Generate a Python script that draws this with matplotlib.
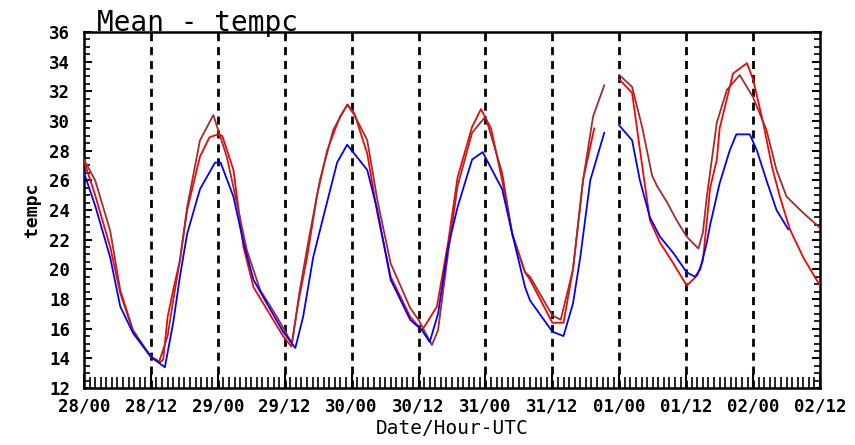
#!/usr/bin/env python3
"""
plot.py - Mean tempc meteogram (three members), 28/00 to 02/12 UTC
"""

import numpy as np
import matplotlib
matplotlib.use('Agg')
import matplotlib.pyplot as plt
from matplotlib.ticker import MultipleLocator

nan = np.nan

# hours since 28/00 UTC, NaN marks the gap before 01/00
blue_hours = [0, 2, 4.7, 6.5, 8.8, 12, 14.5, 16, 17.2, 18.5, 20.8, 23.5, 24.5, 26.8, 28.6,
              30.4, 32.8, 35.7, 37.9, 39.3, 41.1, 42.9, 45.4, 47.2, 50.8, 52.6, 55, 58.5,
              60.6, 62, 63.5, 65.3, 67, 69.6, 71.5, 75, 76.8, 79.1, 80, 84, 86, 87.7, 89,
              90.8, 93.3, nan,
              96, 98.3, 99.7, 101.5, 103.3, 105.7, 108.1, 109.6, 110.5, 111.7, 112.3, 114,
              115.8, 117, 119.4, 120.7, 122.4, 124.2, 126.3]
blue_vals = [26.5, 24.3, 20.8, 17.5, 15.7, 14.1, 13.4, 16.4, 19.5, 22.4, 25.4, 27.2, 27.2, 24.9, 21.8,
             19.3, 17.7, 15.8, 14.7, 16.8, 20.8, 23.5, 27.2, 28.4, 26.7, 24.0, 19.3, 16.6,
             15.9, 15.1, 17.0, 21.5, 24.2, 27.4, 27.9, 25.4, 22.4, 18.8, 17.9, 15.8, 15.5, 17.7, 20.8,
             26.0, 29.2, nan,
             29.7, 28.7, 26.0, 23.5, 22.2, 21.1, 19.8, 19.5, 20.0, 21.8, 23.0, 25.8,
             28.0, 29.1, 29.1, 28.0, 26.0, 24.0, 22.7]

red_hours = [0, 2, 4.7, 6.5, 8.8, 12, 13.5, 14.2, 15, 16, 17.2, 18.5, 20.8, 22.5, 24, 24.8, 26.8,
             28.6, 30.4, 32.8, 35.7, 37.2, 38.4, 40, 41.8, 43.6, 45.9, 47.3, 48.5, 50.8,
             52.6, 55, 58.5, 60.6, 61.5, 63.3, 65.3, 67, 69.6, 71.2, 73, 75, 76.8, 79.1,
             80, 84, 86, 87.7, 89.5, 91.5, nan,
             96, 98.3, 100.1, 101.5, 103.3, 105.7, 108.1, 110, 111, 112.3, 113.5, 114,
             116.4, 118.9, 120, 121.8, 123.4, 124.8, 126.6, 129, 132]
red_vals = [27.3, 25.0, 21.5, 18.4, 15.8, 14.1, 13.7, 13.9, 16.8, 18.6, 20.6, 24.0, 27.6, 28.9, 29.1, 29.0, 26.7,
            21.5, 18.8, 17.3, 15.5, 14.8, 17.7, 20.8, 25.0, 28.0, 30.3, 31.1, 30.5, 27.8,
            23.8, 19.5, 16.8, 15.9, 16.4, 17.5, 21.8, 26.2, 29.6, 30.8, 29.5, 26.0, 22.4, 19.8,
            19.3, 16.4, 16.4, 20.0, 26.0, 29.5, nan,
            32.8, 31.9, 27.0, 23.3, 21.8, 20.4, 18.9, 19.6, 20.6, 25.5, 27.4, 29.5,
            33.2, 33.9, 32.8, 29.9, 26.9, 24.9, 22.7, 20.8, 18.9]

dred_hours = [0, 2, 4.7, 6.5, 8.8, 12, 13.5, 15, 16, 17.2, 18.5, 20.8, 23.2, 25.6, 27.4, 29.2,
              31.6, 34.6, 37.3, 38.7, 40.3, 42.3, 44.7, 47.2, 48.5, 50.8, 52.6, 55, 58.5, 60,
              62.4, 63.5, 65.3, 67, 69.6, 72, 75, 76.8, 79.1, 80, 84, 85.5, 87.7, 89.5, 91.3,
              93.3, nan,
              96, 98.3, 100.1, 101.9, 102.8, 104.6, 106.3, 108.1, 110.2, 111, 111.7, 113.5,
              115.3, 117.6, 120, 122.4, 124.2, 126, 129, 132]
dred_vals = [27.4, 26.0, 22.6, 18.6, 15.9, 14.1, 13.8, 15.5, 17.9, 20.6, 24.2, 28.7, 30.4, 27.6, 24.5, 21.3,
             18.6, 16.8, 15.0, 18.6, 22.0, 26.0, 29.4, 31.1, 30.4, 28.7, 24.7, 20.4, 17.4, 16.6,
             14.9, 15.9, 21.1, 25.6, 29.2, 30.3, 26.5, 22.4, 19.8, 19.5, 16.9, 16.6, 20.0, 26.0, 30.3,
             32.4, nan,
             33.1, 32.3, 29.6, 26.3, 25.6, 24.5, 23.3, 22.2, 21.4, 22.5, 24.9, 29.9,
             32.1, 33.1, 31.6, 29.4, 26.7, 24.9, 23.8, 22.8]

tick_hours = list(range(0, 133, 12))
tick_labels = ['28/00', '28/12', '29/00', '29/12', '30/00', '30/12',
               '31/00', '31/12', '01/00', '01/12', '02/00', '02/12']

plt.rcParams['font.family'] = ['DejaVu Sans Mono']

fig = plt.figure(figsize=(8.55, 4.45), dpi=100)
ax = fig.add_axes([84 / 855, 1 - 388 / 445, 736 / 855, 356 / 445])

# dashed day/half-day separators
for h in tick_hours[1:-1]:
    ax.axvline(h, color='black', lw=2, linestyle=(0, (2.9, 2.1)), zorder=1)

ax.plot(red_hours, red_vals, color='#ff0000', lw=1.3, zorder=3)
ax.plot(dred_hours, dred_vals, color='#a52a2a', lw=1.3, zorder=3)
ax.plot(blue_hours, blue_vals, color='#0000ff', lw=1.3, zorder=4)

ax.set_xlim(0, 132)
ax.set_ylim(12, 36)
ax.set_xticks(tick_hours)
ax.set_xticklabels(tick_labels)
ax.set_yticks(range(12, 37, 2))
ax.xaxis.set_minor_locator(MultipleLocator(1))
ax.yaxis.set_minor_locator(MultipleLocator(0.5))

ax.tick_params(axis='x', which='major', direction='in', length=10, width=1.5,
               labelsize=12.5, pad=7)
ax.tick_params(axis='x', which='minor', direction='in', length=8, width=1.2)
ax.tick_params(axis='y', which='major', direction='in', length=6, width=1.5,
               labelsize=12.5, pad=10, left=True, right=True)
ax.tick_params(axis='y', which='minor', direction='in', length=4, width=1.2,
               left=True, right=True)

for lab in ax.get_xticklabels() + ax.get_yticklabels():
    lab.set_fontweight('bold')

for sp in ax.spines.values():
    sp.set_linewidth(1.8)

ax.text(0.018, 1.004, 'Mean - tempc', transform=ax.transAxes, fontsize=20,
        ha='left', va='baseline')
ax.set_xlabel('Date/Hour-UTC', fontsize=14, labelpad=2)
ax.set_ylabel('tempc', fontsize=13, fontweight='bold', labelpad=6)

fig.savefig('out.png', dpi=100)
print("saved out.png")
